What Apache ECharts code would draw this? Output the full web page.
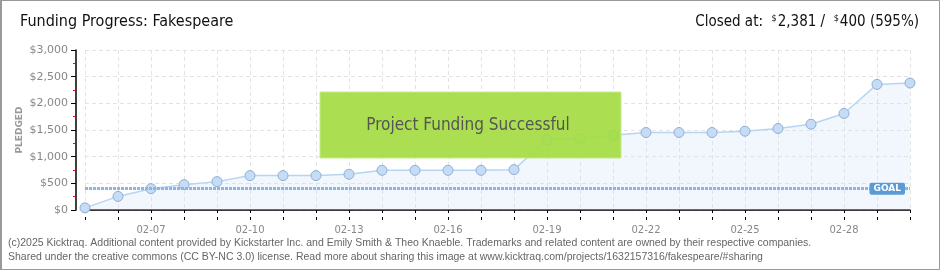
<!DOCTYPE html>
<html><head><meta charset="utf-8">
<script src="https://cdn.jsdelivr.net/npm/echarts@6/dist/echarts.min.js"></script>
<style>html,body{margin:0;padding:0;background:#fff}#c{width:940px;height:270px}</style>
</head><body><div id="c"></div>
<script>
const dates = ['02-05','02-06','02-07','02-08','02-09','02-10','02-11','02-12','02-13','02-14','02-15','02-16','02-17','02-18','02-19','02-20','02-21','02-22','02-23','02-24','02-25','02-26','02-27','02-28','03-01','03-02'];
const pledged = [40,255,400,475,532,645,645,645,670,744,744,744,744,757,1320,1340,1400,1453,1453,1453,1477,1528,1609,1810,2355,2381];
const goal = 400;
const yTicks = [0,500,1000,1500,2000,2500,3000];
const yName = 'PLEDGED';
const titleText = 'Funding Progress: Fakespeare';
const footer1 = '(c)2025 Kicktraq. Additional content provided by Kickstarter Inc. and Emily Smith & Theo Knaeble. Trademarks and related content are owned by their respective companies.';
const footer2 = 'Shared under the creative commons (CC BY-NC 3.0) license. Read more about sharing this image at www.kicktraq.com/projects/1632157316/fakespeare/#sharing';

const chart = echarts.init(document.getElementById('c'), null, {renderer:'canvas'});
const narrow = '"Liberation Sans Narrow","DejaVu Sans Condensed","Liberation Sans",sans-serif';
chart.setOption({
  animation:false,
  backgroundColor:'#fff',
  grid:{left:85,right:30,top:50,bottom:60},
  xAxis:[{
    type:'category', data:dates, boundaryGap:false, offset:10,
    axisLine:{lineStyle:{color:'#000',width:1.5}},
    axisTick:{show:true,interval:0,length:3,lineStyle:{color:'#000'}},
    axisLabel:{interval:(i)=>i%3===2,color:'#888',fontSize:10,margin:5,fontFamily:'"DejaVu Sans",sans-serif'},
    splitLine:{show:true,interval:0,lineStyle:{color:'#e3e3e3',type:[4,3]}}
  },{
    type:'category', data:dates, boundaryGap:false, offset:10, position:'bottom',
    axisLine:{show:false},
    axisTick:{show:true,inside:true,interval:0,length:3,lineStyle:{color:'#000'}},
    axisLabel:{show:false}, splitLine:{show:false}
  }],
  yAxis:{
    type:'value', min:yTicks[0], max:yTicks[yTicks.length-1], interval:500, offset:9,
    axisLine:{show:true,lineStyle:{color:'#000',width:1.5}},
    axisTick:{show:true,length:5,lineStyle:{color:'#000'}},
    minorTick:{show:true,splitNumber:2,length:3,lineStyle:{color:'#e00'}},
    axisLabel:{color:'#888',fontSize:11,margin:8,fontFamily:'"DejaVu Sans",sans-serif',
      formatter:(v)=>'$'+v.toLocaleString('en-US')},
    splitLine:{show:true,lineStyle:{color:'#e3e3e3',type:[4,3]}}
  },
  series:[{
    type:'line', data:pledged, symbol:'circle', symbolSize:10,
    itemStyle:{color:'#c4dcf6',borderColor:'#93aed0',borderWidth:1},
    lineStyle:{color:'#b7d5f3',width:1.5},
    areaStyle:{color:'rgba(205,225,248,0.4)'},
    markLine:{
      silent:true, symbol:['none','none'],
      data:[{yAxis:goal}],
      lineStyle:{color:'#8db4e2',width:3,type:[3,1]},
      label:{show:true,position:'insideEnd',formatter:'GOAL',color:'#fff',fontSize:9,fontWeight:'bold',
        backgroundColor:'#5b9bd5',borderRadius:2,padding:[2,4,1,4],distance:5,fontFamily:'"DejaVu Sans",sans-serif'}
    }
  }],
  graphic:[
    {type:'rect',shape:{x:0.5,y:0.5,width:939,height:269},style:{fill:'none',stroke:'#999',lineWidth:1},silent:true},
    {type:'rect',shape:{x:0,y:0,width:2,height:270},style:{fill:'#999'},silent:true},
    {type:'text',x:20,y:130,rotation:Math.PI/2,style:{text:yName,fill:'#999',fontSize:9,fontWeight:'bold',
      fontFamily:'"DejaVu Sans",sans-serif',align:'center',verticalAlign:'middle'}},
    {type:'text',left:20,top:14,style:{text:titleText,fill:'#111',fontSize:16,fontFamily:narrow}},
    {type:'text',right:21,top:14,style:{
      text:'{a|Closed at:  }{s|$}{a|2,381 /  }{s|$}{a|400 (595%)}',
      rich:{a:{fontSize:15,fill:'#111',fontFamily:narrow},s:{fontSize:9,fill:'#111',fontFamily:narrow,verticalAlign:'top',padding:[0,1,8,0]}}
    }},
    {type:'rect',z:100,shape:{x:320,y:92,width:301,height:66},style:{fill:'rgba(164,220,66,0.92)',stroke:'#c5ec86',lineWidth:1},silent:true},
    {type:'text',z:101,x:468,y:126,style:{text:'Project Funding Successful',fill:'#555',fontSize:17,fontFamily:narrow,
      align:'center',verticalAlign:'middle',textShadowColor:'#fff',textShadowOffsetX:1,textShadowOffsetY:1,textShadowBlur:0}},
    {type:'text',left:8,top:238,style:{text:footer1,fill:'#666',fontSize:10.5,fontFamily:'"Liberation Sans",sans-serif'}},
    {type:'text',left:8,top:252,style:{text:footer2,fill:'#666',fontSize:10.5,fontFamily:'"Liberation Sans",sans-serif'}}
  ]
});
</script></body></html>
